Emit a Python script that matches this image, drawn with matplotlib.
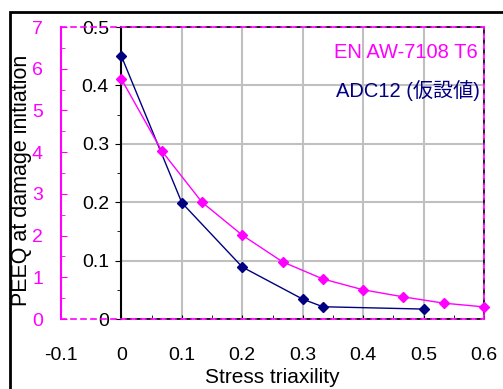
import matplotlib
matplotlib.use("Agg")
import matplotlib.pyplot as plt
from matplotlib.patches import Rectangle
from matplotlib.ticker import MultipleLocator

plt.rcParams['font.family'] = ['Liberation Sans', 'Noto Sans CJK JP', 'DejaVu Sans']

# Data
x_en = [0.0, 0.0667, 0.1333, 0.2, 0.2667, 0.3333, 0.4, 0.4667, 0.5333, 0.6]
y_en = [5.75, 4.03, 2.80, 2.01, 1.37, 0.96, 0.70, 0.53, 0.38, 0.29]   # left magenta scale (0-7)
x_adc = [0.0, 0.1, 0.2, 0.3, 0.3333, 0.5]
y_adc = [0.450, 0.199, 0.089, 0.034, 0.021, 0.017]                  # black scale (0-0.5)
x_ticks = [-0.1, 0, 0.1, 0.2, 0.3, 0.4, 0.5, 0.6]
x_ticklabels = ['-0.1', '0', '0.1', '0.2', '0.3', '0.4', '0.5', '0.6']
en_label = 'EN AW-7108 T6'
adc_label = 'ADC12 (仮設値)'

W, H = 503, 389
fig = plt.figure(figsize=(W / 100, H / 100), dpi=100)
fig.patch.set_facecolor('white')

MAG = '#ff00ff'
NAVY = '#000080'

# outer (magenta) axes
L, R, T, B = 61, 484, 27, 319
outer_pos = [L / W, 1 - B / H, (R - L) / W, (B - T) / H]
inner_left = L + (R - L) * (0.1 / 0.7)
inner_pos = [inner_left / W, 1 - B / H, (R - inner_left) / W, (B - T) / H]

ax_in = fig.add_axes(inner_pos, zorder=1)
ax_out = fig.add_axes(outer_pos, zorder=2)
ax_out.set_facecolor('none')

# inner axes
ax_in.set_xlim(0, 0.6)
ax_in.set_ylim(0, 0.5)
ax_in.xaxis.set_major_locator(MultipleLocator(0.1))
ax_in.xaxis.set_minor_locator(MultipleLocator(0.05))
ax_in.yaxis.set_major_locator(MultipleLocator(0.1))
ax_in.yaxis.set_minor_locator(MultipleLocator(0.05))
ax_in.grid(True, which='major', color='#c0c0c0', lw=1.5)
ax_in.set_axisbelow(True)
ax_in.tick_params(axis='x', which='both', direction='in', length=3, labelbottom=False, color='black')
ax_in.tick_params(axis='y', which='major', direction='out', length=4, labelsize=14, pad=5, color='black')
ax_in.tick_params(axis='y', which='minor', direction='out', length=3, color='black')
ax_in.set_yticks([0, 0.1, 0.2, 0.3, 0.4, 0.5])
ax_in.set_yticklabels(['0', '0.1', '0.2', '0.3', '0.4', '0.5'])
for s in ['top', 'right', 'bottom']:
    ax_in.spines[s].set_color('black')
    ax_in.spines[s].set_linestyle((3, (3, 3)))
    ax_in.spines[s].set_linewidth(1.2)
ax_in.spines['left'].set_color('black')
ax_in.spines['left'].set_linewidth(1.5)
ax_in.plot(x_adc, y_adc, color=NAVY, lw=1, marker='D', ms=5.5, clip_on=False, zorder=3)

# outer axes
ax_out.set_xlim(-0.1, 0.6)
ax_out.set_ylim(0, 7)
ax_out.set_xticks(x_ticks)
ax_out.set_xticklabels(x_ticklabels)
ax_out.tick_params(axis='x', length=0, pad=20, labelsize=14, labelcolor='black')
ax_out.yaxis.set_major_locator(MultipleLocator(1))
ax_out.yaxis.set_minor_locator(MultipleLocator(0.5))
ax_out.tick_params(axis='y', which='major', direction='in', length=4, color=MAG,
                   labelcolor=MAG, labelsize=14, pad=13)
ax_out.tick_params(axis='y', which='minor', direction='in', length=3, color=MAG)
ax_out.spines['left'].set_color(MAG)
ax_out.spines['left'].set_linewidth(1.5)
for s in ['top', 'right', 'bottom']:
    ax_out.spines[s].set_color(MAG)
    ax_out.spines[s].set_linestyle((0, (3, 3)))
    ax_out.spines[s].set_linewidth(1.2)
ax_out.plot(x_en, y_en, color=MAG, lw=1, marker='D', ms=5.5, clip_on=False, zorder=3)

ax_out.set_xlabel('Stress triaxility', fontsize=15, labelpad=3)
fig.text(22 / W, 1 - 180 / H, 'PEEQ at damage initiation', rotation=90,
         fontsize=15.5, ha='center', va='center')

fig.text(478 / W, 1 - 53 / H, en_label, color=MAG, fontsize=14.5, ha='right', va='center')
fig.text(480 / W, 1 - 90 / H, adc_label, color=NAVY, fontsize=14.5, ha='right', va='center')

# outer frame
fig.patches.append(Rectangle((10 / W, -0.1), 1.2, 1 - 12 / H + 0.1, transform=fig.transFigure,
                             fill=False, edgecolor='black', lw=2, zorder=10))

fig.savefig('out.png', dpi=100)
